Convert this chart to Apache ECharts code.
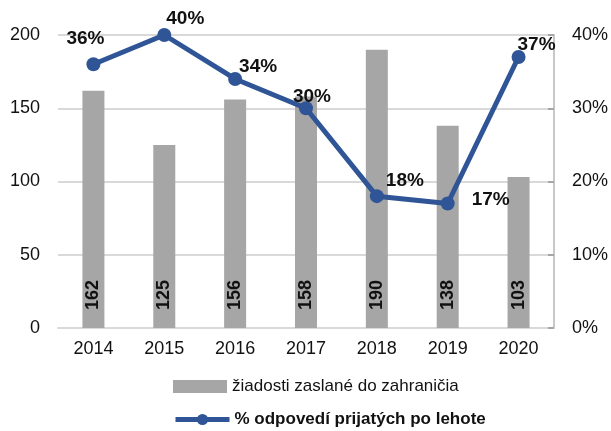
<!DOCTYPE html>
<html><head><meta charset="utf-8">
<script src="https://cdn.jsdelivr.net/npm/echarts@6/dist/echarts.min.js"></script>
<style>html,body{margin:0;padding:0;background:#fff}#c{width:611px;height:431px}</style>
</head><body><div id="c"></div>
<script>
const categories = ['2014','2015','2016','2017','2018','2019','2020'];
const requests = [162,125,156,158,190,138,103];
const latePct = [36,40,34,30,18,17,37];
const leftTicks = [0,50,100,150,200];
const rightTicks = ['0%','10%','20%','30%','40%'];
const barName = 'žiadosti zaslané do zahraničia';
const lineName = '% odpovedí prijatých po lehote';

// label offsets for line labels (style only)
const lineLabelOffsets = [[-8,-26],[21,-16],[23,-12],[6,-11],[28,-15],[43,-4],[18,-12]];

const font = 'Liberation Sans, Arial, sans-serif';
const chart = echarts.init(document.getElementById('c'));
chart.setOption({
  animation:false,
  textStyle:{fontFamily:font},
  grid:{left:58,right:53,top:35,bottom:103},
  legend:[
    {left:168, top:373, itemWidth:54, itemHeight:13,
     textStyle:{fontSize:17, color:'#111', fontFamily:font},
     data:[{name:barName, icon:'rect'}]},
    {left:168, top:406, itemWidth:54, itemHeight:14,
     textStyle:{fontSize:17, fontWeight:'bold', color:'#111', fontFamily:font},
     lineStyle:{width:5},
     data:[{name:lineName, lineStyle:{width:5}}]}
  ],
  xAxis:{
    type:'category', data:categories,
    axisLine:{lineStyle:{color:'#d9d9d9', width:2}},
    axisTick:{show:false},
    axisLabel:{fontSize:18, color:'#111', margin:12}
  },
  yAxis:[
    {type:'value', min:0, max:200, interval:50,
     axisLine:{show:false}, axisTick:{show:false},
     splitLine:{lineStyle:{color:'#d9d9d9', width:2}},
     axisLabel:{fontSize:18, color:'#111', margin:18}},
    {type:'value', min:0, max:40, interval:10, position:'right',
     axisLine:{show:true, lineStyle:{color:'#c8c8c8', width:2}},
     axisTick:{show:true, inside:true, length:6, lineStyle:{color:'#a6a6a6', width:2}},
     splitLine:{show:false},
     axisLabel:{fontSize:18, color:'#111', margin:18, formatter:v=>v+'%'}}
  ],
  series:[
    {name:barName, type:'bar', data:requests, barWidth:22,
     itemStyle:{color:'#a6a6a6'},
     label:{show:true, position:'insideBottom', rotate:90, distance:18, align:'left', verticalAlign:'middle',
            fontSize:18, fontWeight:'bold', color:'#111', fontFamily:font}},
    {name:lineName, type:'line', yAxisIndex:1,
     data:latePct.map((v,i)=>({value:v, label:{offset:lineLabelOffsets[i]}})),
     symbol:'circle', symbolSize:14,
     lineStyle:{color:'#2f5597', width:5},
     itemStyle:{color:'#2f5597'},
     label:{show:true, position:'inside', fontSize:19, fontWeight:'bold', color:'#111',
            formatter:p=>p.value+'%', fontFamily:font}}
  ]
});
</script>
</body></html>
